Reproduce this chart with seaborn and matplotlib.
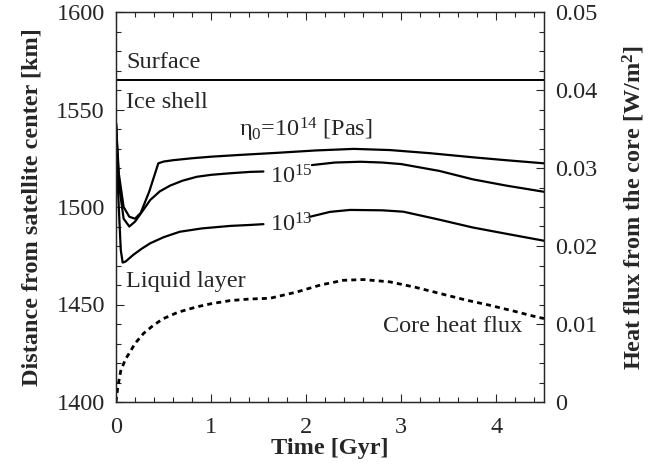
import numpy as np
import pandas as pd
import matplotlib
matplotlib.use("Agg")
import matplotlib.pyplot as plt
import seaborn as sns
from matplotlib.ticker import MultipleLocator

# ---------------- data ----------------
surface_r = 1565.0

t_14 = [0, 0.03, 0.08, 0.14, 0.2, 0.26, 0.35, 0.445, 0.5, 0.6, 0.8, 1.0, 1.3, 1.7, 2.1, 2.5, 2.88, 3.3, 3.75, 4.1, 4.5]
r_14 = [1543, 1517, 1500, 1495, 1494, 1497, 1508, 1522.4, 1523.3, 1524, 1525, 1525.8, 1526.7, 1527.8, 1529, 1529.8, 1529.2, 1527.6, 1525.5, 1524, 1522.4]

t_15a = [0, 0.03, 0.08, 0.14, 0.2, 0.28, 0.36, 0.46, 0.57, 0.7, 0.85, 1.0, 1.2, 1.41, 1.55]
r_15a = [1543, 1512, 1494, 1490, 1492.5, 1498, 1503.6, 1508, 1511, 1513.5, 1515.5, 1516.5, 1517.3, 1518, 1518.2]
t_15b = [2.06, 2.3, 2.57, 2.8, 3.0, 3.4, 3.75, 4.1, 4.5]
r_15b = [1521.5, 1522.8, 1523.2, 1522.8, 1522, 1518.5, 1514.2, 1511, 1507.8]

t_13a = [0, 0.02, 0.05, 0.07, 0.1, 0.18, 0.27, 0.36, 0.5, 0.67, 0.9, 1.2, 1.41, 1.55]
r_13a = [1543, 1510, 1478, 1471.5, 1472, 1475.4, 1478.6, 1481.4, 1484.5, 1487.3, 1489, 1490.3, 1490.8, 1491.2]
t_13b = [2.04, 2.25, 2.46, 2.8, 3.02, 3.4, 3.75, 4.1, 4.5]
r_13b = [1495, 1497.5, 1498.5, 1498.3, 1497.6, 1493.5, 1489.5, 1486.3, 1482.7]

t_q = [0, 0.02, 0.05, 0.1, 0.147, 0.2, 0.29, 0.4, 0.5, 0.65, 0.85, 1.0, 1.2, 1.4, 1.62, 1.9, 2.15, 2.39, 2.6, 2.88, 3.15, 3.41, 3.67, 3.93, 4.2, 4.39, 4.5]
q = [0, 0.002, 0.004, 0.0055, 0.0064, 0.0075, 0.0088, 0.0099, 0.0107, 0.0115, 0.0122, 0.0126, 0.013, 0.0132, 0.0133, 0.0141, 0.015, 0.0156, 0.0157, 0.0154, 0.0147, 0.0139, 0.0131, 0.0124, 0.0116, 0.011, 0.0107]

x_ticks = [0, 1, 2, 3, 4]
left_ticks = [1400, 1450, 1500, 1550, 1600]
right_ticks = [0, 0.01, 0.02, 0.03, 0.04, 0.05]
right_labels = ["0", "0.01", "0.02", "0.03", "0.04", "0.05"]

# ---------------- style ----------------
sns.set_style("ticks")
plt.rcParams["font.family"] = ["Liberation Serif", "DejaVu Serif"]
plt.rcParams["mathtext.fontset"] = "custom"
plt.rcParams["mathtext.rm"] = "Liberation Serif"
plt.rcParams["mathtext.it"] = "Liberation Serif:italic"
plt.rcParams["mathtext.bf"] = "Liberation Serif:bold"

FS = 17.5

fig = plt.figure(figsize=(6.64, 4.72), dpi=100)
ax = fig.add_axes([116 / 664, 1 - 402 / 472, (544 - 116) / 664, (402 - 12) / 472])
ax2 = ax.twinx()

lw = 1.6
segments = [(t_14, r_14), (t_15a, r_15a), (t_15b, r_15b), (t_13a, r_13a), (t_13b, r_13b)]
for tt, rr in segments:
    sns.lineplot(x=tt, y=rr, ax=ax, color="black", linewidth=lw, sort=False, estimator=None)

ax.axhline(surface_r, color="black", linewidth=1.4)

sns.lineplot(x=t_q, y=q, ax=ax2, color="black", linewidth=2.0, sort=False, estimator=None,
             linestyle=(0, (1.8, 1.5)))

# ---------------- axes ----------------
ax.set_xlim(0, 4.5)
ax.set_ylim(1400, 1600)
ax2.set_ylim(0, 0.05)
ax.set_xticks(x_ticks)
ax.set_xticklabels([str(v) for v in x_ticks], fontsize=FS)
ax.set_yticks(left_ticks)
ax.set_yticklabels([str(v) for v in left_ticks], fontsize=FS)
ax2.set_yticks(right_ticks)
ax2.set_yticklabels(right_labels, fontsize=FS)
ax.xaxis.set_minor_locator(MultipleLocator(0.2))
ax.yaxis.set_minor_locator(MultipleLocator(10))
ax2.yaxis.set_minor_locator(MultipleLocator(0.0025))

ax.tick_params(axis="x", which="both", direction="in", top=True, bottom=True)
ax.tick_params(axis="y", which="both", direction="in", left=True, right=False)
ax2.tick_params(axis="y", which="both", direction="in", right=True, left=False)
for a in (ax, ax2):
    a.tick_params(which="major", length=6, width=0.8)
    a.tick_params(which="minor", length=3.5, width=0.8)
    for s in a.spines.values():
        s.set_visible(True)
        s.set_linewidth(0.9)
ax.tick_params(axis="x", which="major", pad=11)
ax.tick_params(axis="y", which="major", pad=8)
ax2.tick_params(axis="y", which="major", pad=8)

ax.set_xlabel("Time [Gyr]", fontsize=FS, fontweight="bold", labelpad=0)
ax.set_ylabel("Distance from satellite center [km]", fontsize=FS, fontweight="bold", labelpad=10)
ax2.set_ylabel("Heat flux from the core [W/m$^\\mathbf{2}$]", fontsize=FS, fontweight="bold", labelpad=17)

# ---------------- annotations ----------------
ax.text(0.11, 1574, "Surface", fontsize=FS, va="center", ha="left")
ax.text(0.11, 1553.5, "Ice shell", fontsize=FS, va="center", ha="left")
ax.text(1.29, 1539.5, "η$_0$=10$^{14}$ [Pas]", fontsize=FS, va="center", ha="left")
ax.text(1.62, 1515.5, "10$^{15}$", fontsize=FS, va="center", ha="left")
ax.text(1.62, 1490.8, "10$^{13}$", fontsize=FS, va="center", ha="left")
ax.text(0.11, 1461.7, "Liquid layer", fontsize=FS, va="center", ha="left")
ax.text(4.27, 1438.6, "Core heat flux", fontsize=FS, va="center", ha="right")

fig.savefig("out.png", dpi=100)
